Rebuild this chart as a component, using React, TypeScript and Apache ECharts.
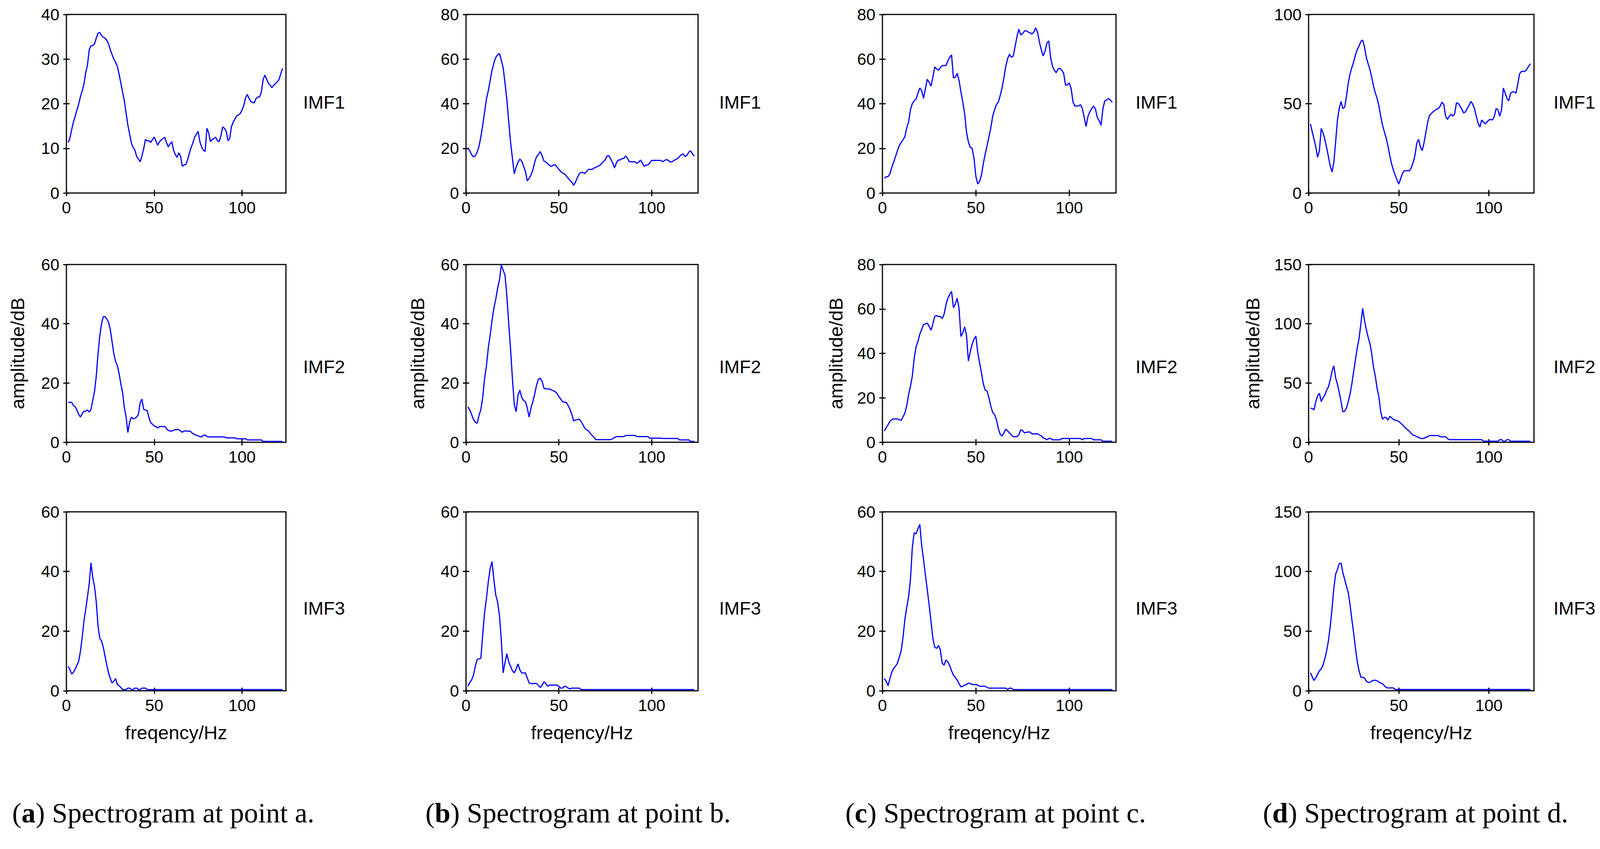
import { useEffect, useRef } from "react";
import * as echarts from "echarts";

// frequency bins (Hz), shared by all twelve spectra
const FREQ = [
  1, 2, 3, 4, 5, 6, 7, 8, 9, 10, 11, 12, 13, 14, 15, 16, 17, 18, 19, 20,
  21, 22, 23, 24, 25, 26, 27, 28, 29, 30, 31, 32, 33, 34, 35, 36, 37, 38, 39, 40,
  41, 42, 43, 44, 45, 46, 47, 48, 49, 50, 51, 52, 53, 54, 55, 56, 57, 58, 59, 60,
  61, 62, 63, 64, 65, 66, 67, 68, 69, 70, 71, 72, 73, 74, 75, 76, 77, 78, 79, 80,
  81, 82, 83, 84, 85, 86, 87, 88, 89, 90, 91, 92, 93, 94, 95, 96, 97, 98, 99, 100,
  101, 102, 103, 104, 105, 106, 107, 108, 109, 110, 111, 112, 113, 114, 115, 116, 117, 118, 119, 120,
  121, 122, 123,
];

// point a
const A_IMF1 = [
  11.3, 12.3, 14.2, 15.9, 17.2, 18.6, 19.9, 21.6, 22.9, 24.4,
  27, 28.7, 32.1, 33, 33, 33.4, 34.7, 35.8, 36, 35.3,
  34.9, 34.7, 34.2, 33.4, 32.1, 31, 30, 29.3, 28.4, 26.6,
  24.6, 22.6, 20.6, 17.9, 15.2, 13.2, 11.2, 10.2, 9.6, 8.2,
  7.6, 7, 8.3, 9.9, 12, 11.7, 11.7, 11.3, 12, 12.5,
  11.6, 10.7, 11.5, 11.9, 12.2, 12.5, 11.3, 10.3, 11, 11.5,
  9.6, 8.6, 8, 9, 8.2, 6, 6.3, 6.4, 7.4, 8.9,
  10.2, 11.2, 12.5, 13.2, 13.8, 11.5, 10.3, 9.6, 9.3, 14.5,
  13.5, 11.5, 12, 12.2, 12.5, 11.7, 11.5, 12.9, 14.8, 14.5,
  13.8, 11.7, 12.3, 14.9, 15.9, 16.6, 17.3, 17.5, 17.8, 18.6,
  19.6, 21.3, 22.1, 21.2, 20.5, 20.3, 20.2, 21.2, 21.5, 21.5,
  22.6, 25.4, 26.4, 25.5, 24.6, 24.2, 23.6, 24.1, 24.5, 24.9,
  25.4, 26.6, 27.9,
];
const A_IMF2 = [
  13.5, 13.5, 13.5, 12.4, 12, 10.9, 9.4, 8.5, 9.6, 10.5,
  10.5, 10.9, 10.2, 11.1, 14.1, 17.1, 22.3, 29.9, 35.9, 40,
  42.4, 42.4, 41.6, 40.5, 38, 34, 29.9, 27.3, 25.8, 23.2,
  19.7, 16.7, 11.7, 8.5, 3.3, 6.8, 8.5, 7.9, 8.1, 8.5,
  9.4, 13.3, 14.6, 11.1, 10.9, 10.7, 8.3, 6.6, 6.1, 5.5,
  5.3, 4.8, 5.3, 5.3, 5.3, 5.3, 4.6, 4, 3.8, 3.8,
  4, 4.3, 4.3, 4.3, 3.8, 3.4, 3.8, 3.8, 3.8, 3.8,
  3.5, 2.9, 2.7, 2.3, 2.2, 1.9, 1.8, 2.4, 2.4, 2,
  1.8, 1.8, 1.8, 1.8, 1.8, 1.8, 1.8, 1.8, 1.8, 1.8,
  1.5, 1.5, 1.5, 1.5, 1.5, 1.5, 1.2, 1.2, 1.2, 1.2,
  1.2, 1.2, 0.8, 0.8, 0.8, 0.8, 0.8, 0.8, 0.8, 0.8,
  0.8, 0.3, 0.3, 0.3, 0.3, 0.3, 0.3, 0.3, 0.3, 0.3,
  0.3, 0.3, 0.3,
];
const A_IMF3 = [
  8.2, 7.1, 5.6, 6.2, 7.3, 8.6, 9.9, 13.3, 18, 23.4,
  27.3, 31.5, 36, 42.9, 38, 35, 29.8, 21.7, 17.6, 16.7,
  14.6, 11.6, 8.6, 6, 4.1, 2.6, 3.2, 4.1, 2.1, 1.7,
  1.1, 0.4, 0.4, 0.4, 0.9, 0.9, 0.4, 0.4, 0.9, 0.9,
  0.4, 0.4, 0.9, 0.9, 0.9, 0.4, 0.4, 0.4, 0.4, 0.4,
  0.4, 0.4, 0.4, 0.4, 0.4, 0.4, 0.4, 0.4, 0.4, 0.4,
  0.4, 0.4, 0.4, 0.4, 0.4, 0.4, 0.4, 0.4, 0.4, 0.4,
  0.4, 0.4, 0.4, 0.4, 0.4, 0.4, 0.4, 0.4, 0.4, 0.4,
  0.4, 0.4, 0.4, 0.4, 0.4, 0.4, 0.4, 0.4, 0.4, 0.4,
  0.4, 0.4, 0.4, 0.4, 0.4, 0.4, 0.4, 0.4, 0.4, 0.4,
  0.4, 0.4, 0.4, 0.4, 0.4, 0.4, 0.4, 0.4, 0.4, 0.4,
  0.4, 0.4, 0.4, 0.4, 0.4, 0.4, 0.4, 0.4, 0.4, 0.4,
  0.4, 0.4, 0.4,
];

// point b
const B_IMF1 = [
  20.3, 18.9, 17.2, 16.2, 16.6, 18.3, 20.9, 25.2, 30.4, 36.1,
  42.1, 45.8, 50.4, 55, 58.2, 60.7, 61.9, 62.5, 59.6, 56.2,
  49.3, 41.8, 32.1, 22.9, 15.5, 8.6, 11.5, 13.8, 15.2, 14.3,
  12, 9.7, 5.4, 6.6, 8, 10.3, 13.8, 16.3, 17.2, 18.6,
  16.6, 14.3, 13.9, 13.2, 12.3, 12, 12.5, 12.7, 11.7, 10.6,
  9.7, 8.9, 8.6, 7.7, 6.6, 5.7, 4.9, 3.4, 4.9, 6.9,
  8.6, 9.3, 9.2, 8.7, 9.7, 10.6, 10.6, 10.6, 11.2, 11.5,
  12, 12.3, 13.2, 14, 14.9, 16.6, 16.7, 15.2, 13.5, 11.2,
  13.5, 14.8, 14.8, 15.4, 15.5, 16.6, 15.5, 14, 14, 14,
  14, 13.3, 13.8, 14.8, 13.5, 11.9, 12.5, 12.6, 13.5, 14.6,
  14.6, 14.6, 14.6, 14.6, 14.6, 14, 14.6, 15, 14.6, 13.9,
  14, 14.6, 15, 15.5, 16.3, 17.2, 17.5, 16.3, 16.9, 18.3,
  18.9, 17.5, 16.6,
];
const B_IMF2 = [
  12, 10.9, 9.4, 7.7, 6.8, 6.4, 9, 11.1, 15.2, 21.5,
  25.8, 31.8, 36.1, 41.1, 45.2, 48.2, 51.9, 54.7, 59.8, 58.1,
  56.4, 49.5, 40, 31.4, 21.5, 12.8, 10.3, 15.9, 17.6, 15.2,
  14.1, 13.7, 11.6, 8.5, 11.6, 13.7, 16.3, 19.3, 21.3, 21.6,
  20.6, 18.2, 18, 18, 18, 17.7, 17.4, 17.1, 16.5, 15.4,
  14.6, 13.7, 13.5, 13.5, 12.4, 11.1, 9.4, 7.2, 7.5, 7.7,
  7.8, 7, 5.9, 4.7, 4.2, 3.8, 2.9, 2.3, 1.6, 0.9,
  0.9, 0.9, 0.9, 0.9, 0.9, 0.9, 0.9, 0.9, 1.2, 1.6,
  1.9, 1.9, 1.9, 1.9, 1.9, 2.3, 2.3, 2.3, 2.3, 2.3,
  2.3, 1.9, 1.9, 1.9, 1.9, 1.9, 1.9, 1.9, 1.4, 1.4,
  1.4, 1.4, 1.4, 1.4, 1.4, 1.3, 1.3, 1.3, 1.3, 1.3,
  1.3, 1.3, 1.3, 1.3, 0.8, 0.8, 0.8, 0.8, 0.8, 0.8,
  0.3, 0.3, 0.3,
];
const B_IMF3 = [
  1.5, 2.8, 3.6, 5.2, 8.2, 10.5, 10.7, 10.9, 18.9, 26.2,
  31, 36.5, 41, 43.3, 37.3, 32.2, 29.8, 25.3, 17.2, 6,
  9.4, 12.4, 9.7, 8.2, 6.7, 6, 7.3, 9, 7, 6,
  6, 6, 4.3, 2.6, 2.4, 2.4, 2.5, 2.4, 1.8, 1.1,
  1.9, 3, 2.4, 1.5, 1.9, 1.9, 1.9, 1.9, 1.9, 1.5,
  0.9, 0.9, 1.5, 1.4, 0.9, 0.6, 0.9, 0.9, 0.9, 0.9,
  0.9, 0.4, 0.4, 0.4, 0.4, 0.4, 0.4, 0.4, 0.4, 0.4,
  0.4, 0.4, 0.4, 0.4, 0.4, 0.4, 0.4, 0.4, 0.4, 0.4,
  0.4, 0.4, 0.4, 0.4, 0.4, 0.4, 0.4, 0.4, 0.4, 0.4,
  0.4, 0.4, 0.4, 0.4, 0.4, 0.4, 0.4, 0.4, 0.4, 0.4,
  0.4, 0.4, 0.4, 0.4, 0.4, 0.4, 0.4, 0.4, 0.4, 0.4,
  0.4, 0.4, 0.4, 0.4, 0.4, 0.4, 0.4, 0.4, 0.4, 0.4,
  0.4, 0.4, 0.4,
];

// point c
const C_IMF1 = [
  6.6, 7.3, 7.3, 8.6, 11.5, 13.8, 16.3, 18.9, 21.2, 22.6,
  23.8, 25.2, 29.2, 31.8, 37.3, 40.1, 41.3, 42.1, 44.7, 47,
  45.9, 42.4, 46.7, 51, 49.6, 47.9, 51.9, 56.5, 55.6, 55,
  56.2, 57.1, 57.1, 57.1, 59.1, 60.8, 61.9, 51.6, 51.9, 53.6,
  50.5, 45.3, 40.7, 35.6, 27.2, 22.9, 20.4, 20.1, 15.5, 7.5,
  4, 5.2, 8, 13.2, 17.5, 21.2, 25.2, 29.2, 34.4, 37.3,
  39.6, 40.7, 43.6, 47, 51.6, 56.8, 60.2, 62.2, 60.8, 61.4,
  65.7, 70, 73.4, 70.8, 71.4, 72.6, 72.7, 72.1, 71.8, 71.2,
  72.1, 74, 72, 67.7, 64.2, 61.4, 63.4, 67.1, 68.2, 60.8,
  56.8, 55, 53.9, 55.6, 55.9, 55, 53.6, 48.2, 48.5, 49.3,
  46.7, 40.7, 39, 39, 39, 39.6, 37.8, 33.8, 29.8, 34.4,
  36.4, 37.8, 39, 37.6, 33.8, 32.4, 30.4, 37.8, 41.3, 41.7,
  42.4, 41.6, 40.6,
];
const C_IMF2 = [
  5.1, 6.5, 7.9, 9.4, 10.2, 10.5, 10.5, 10.5, 10.2, 9.8,
  11.4, 13.1, 16.5, 21.4, 25.2, 29.8, 37.8, 43, 45.3, 48.7,
  50.7, 53, 53.3, 53.6, 52.2, 50.4, 53.3, 56.7, 57, 56.6,
  56.6, 55.7, 57.6, 61.9, 64.8, 66.5, 67.9, 60.5, 62.2, 64.8,
  60.2, 47.6, 49.3, 51.9, 48.1, 36.6, 40.7, 44.1, 46.4, 47.8,
  40.4, 35.8, 31.2, 26.3, 23.4, 23.1, 20, 16.3, 13.4, 12.5,
  10.2, 6.3, 3.6, 2.8, 4.2, 5.9, 5.1, 4.2, 3.3, 2.5,
  2.5, 2.5, 3.3, 5.6, 5.3, 4.2, 4.5, 4.6, 4.6, 3.8,
  3.8, 3.8, 3.8, 3.3, 2.9, 1.9, 1.7, 1.1, 1.7, 1.7,
  1.1, 1.1, 1.1, 1.1, 1.1, 1.7, 1.7, 1.7, 1.7, 1.7,
  1.7, 1.7, 1.7, 1.7, 1.7, 1.7, 1.1, 1.7, 1.7, 1.7,
  1.7, 1.7, 1.1, 1.1, 1.1, 1.1, 1.1, 0.5, 0.5, 0.5,
  0.5, 0.5, 0.5,
];
const C_IMF3 = [
  4.1, 3.2, 1.7, 4.1, 6.2, 7.5, 8.2, 9.2, 11.2, 13.3,
  17.8, 23.8, 27.9, 31.5, 37.3, 48.1, 53, 52.6, 54.3, 55.8,
  48.7, 44, 38.8, 33.9, 28.8, 23.2, 17.6, 14.6, 14.2, 15.2,
  13.7, 9.2, 8.6, 10.3, 9.7, 8.4, 6.7, 5.2, 4.5, 3.6,
  2.4, 1.3, 1.5, 1.9, 2.1, 2.6, 2.4, 2.1, 2.1, 2.1,
  1.9, 1.5, 1.5, 1.5, 1.5, 1.1, 0.9, 0.9, 0.9, 0.9,
  0.9, 0.9, 0.9, 0.9, 0.9, 0.9, 0.4, 0.9, 0.9, 0.4,
  0.4, 0.4, 0.4, 0.4, 0.4, 0.4, 0.4, 0.4, 0.4, 0.4,
  0.4, 0.4, 0.4, 0.4, 0.4, 0.4, 0.4, 0.4, 0.4, 0.4,
  0.4, 0.4, 0.4, 0.4, 0.4, 0.4, 0.4, 0.4, 0.4, 0.4,
  0.4, 0.4, 0.4, 0.4, 0.4, 0.4, 0.4, 0.4, 0.4, 0.4,
  0.4, 0.4, 0.4, 0.4, 0.4, 0.4, 0.4, 0.4, 0.4, 0.4,
  0.4, 0.4, 0.4,
];

// point d
const D_IMF1 = [
  38.7, 34.4, 30.1, 25.8, 20, 23.7, 36.2, 33.7, 30.1, 25.4,
  20.4, 15.1, 11.8, 17.2, 28.7, 40.9, 47.3, 51.3, 47.3, 48,
  54.1, 61.6, 66.7, 70.3, 73.5, 77.4, 80.3, 82.4, 84.9, 85.7,
  81.7, 76, 72.4, 69.2, 64.9, 59.9, 55.9, 53, 48.7, 43,
  38, 34.4, 30.8, 26.5, 21.1, 16.5, 12.9, 10, 7.5, 5,
  7.9, 10.8, 12.5, 12.5, 12.5, 12.5, 14.3, 17.2, 21.1, 28,
  30.1, 25.8, 23.7, 28, 33.7, 39.4, 43.4, 44.4, 45.5, 46.2,
  47, 47.3, 48.7, 50.9, 49.5, 43, 41.2, 43, 44.1, 43,
  44.4, 50.5, 50.2, 48.7, 47, 44.8, 45.5, 47.3, 49.1, 51.3,
  49.8, 47.3, 43, 39.1, 36.9, 40.9, 39.8, 38.7, 39.8, 40.9,
  41.2, 40.9, 43, 47.3, 46.6, 43, 46.6, 58.8, 55.9, 53,
  51.6, 55.9, 56.6, 56.6, 55.9, 60.9, 66.7, 68.1, 68.1, 68.1,
  69.2, 71, 72.4,
];
const D_IMF2 = [
  28.6, 28.6, 27.3, 34.3, 39.2, 41.3, 34.3, 37.5, 39.7, 44,
  46.7, 52.6, 60, 64.5, 54.3, 48.9, 41.9, 34.3, 25.7, 26.2,
  28.9, 34.3, 40.8, 49.4, 59.7, 69.9, 79.6, 87.7, 100, 113,
  102.8, 95.3, 88.8, 83.4, 74.8, 63.4, 55.9, 45.6, 38.1, 25.7,
  19.4, 21.1, 20.8, 18.7, 21.9, 20.8, 19.2, 18.7, 18.3, 17.6,
  16.2, 14.9, 13.3, 11.7, 10.4, 9, 7.3, 6, 5.7, 4.6,
  4.3, 3.2, 3.2, 3.2, 4.3, 4.6, 5.7, 5.7, 5.7, 5.7,
  5.7, 5.7, 4.6, 4.6, 4.6, 4.6, 3.2, 2.2, 2.2, 2.2,
  2.2, 2.2, 2.2, 2.2, 2.2, 2.2, 2.2, 2.2, 2.2, 2.2,
  2.2, 2.2, 2.2, 2.2, 2.2, 2.2, 0.9, 0.9, 0.9, 0.9,
  0.9, 0.9, 0.9, 0.9, 0.9, 2.2, 2.2, 0.9, 0.9, 2.2,
  2.2, 0.9, 0.9, 0.9, 0.9, 0.9, 0.9, 0.9, 0.9, 0.9,
  0.9, 0.9, 0.9,
];
const D_IMF3 = [
  15.1, 11.8, 8.6, 10.8, 14, 16.7, 18.3, 21.5, 26.9, 33.3,
  41.9, 53.8, 68.8, 86, 97.8, 101.6, 106.5, 107, 98.9, 93.5,
  87.6, 82.3, 72, 59.7, 48.4, 35.5, 24.2, 16.7, 11.3, 11.3,
  10.8, 8.1, 7, 7, 8.1, 8.8, 8.8, 8.4, 7.3, 6.5,
  5.9, 4.3, 2.7, 2.4, 2.4, 2.4, 2.4, 1.1, 1.1, 1.1,
  1.1, 1.1, 1.1, 1.1, 1.1, 1.1, 1.1, 1.1, 1.1, 1.1,
  1.1, 1.1, 1.1, 1.1, 1.1, 1.1, 1.1, 1.1, 1.1, 1.1,
  1.1, 1.1, 1.1, 1.1, 1.1, 1.1, 1.1, 1.1, 1.1, 1.1,
  1.1, 1.1, 1.1, 1.1, 1.1, 1.1, 1.1, 1.1, 1.1, 1.1,
  1.1, 1.1, 1.1, 1.1, 1.1, 1.1, 1.1, 1.1, 1.1, 1.1,
  1.1, 1.1, 1.1, 1.1, 1.1, 1.1, 1.1, 1.1, 1.1, 1.1,
  1.1, 1.1, 1.1, 1.1, 1.1, 1.1, 1.1, 1.1, 1.1, 1.1,
  1.1, 1.1, 1.1,
];

// columns = points a..d, rows = IMF1..IMF3
const SPECTRA = [
  [A_IMF1, A_IMF2, A_IMF3],
  [B_IMF1, B_IMF2, B_IMF3],
  [C_IMF1, C_IMF2, C_IMF3],
  [D_IMF1, D_IMF2, D_IMF3],
];
const Y_MAX = [
  [40, 60, 60],
  [80, 60, 60],
  [80, 80, 60],
  [100, 150, 150],
];
const Y_STEP = [
  [10, 20, 20],
  [20, 20, 20],
  [20, 20, 20],
  [50, 50, 50],
];
const X_MAX = 125;
const X_TICKS = [0, 50, 100];
const IMF_LABELS = ["IMF1", "IMF2", "IMF3"];
const POINTS = ["a", "b", "c", "d"];
const X_NAME = "freqency/Hz";
const Y_NAME = "amplitude/dB";

// layout (px)
const W = 4170;
const H = 2173;
const COL_LEFT = [170, 1193, 2259, 3350];
const COL_WIDTH = [562, 594, 598, 577];
const ROW_TOP = [37, 677, 1310];
const ROW_HEIGHT = [457, 455, 458];
const IMF_X = [776, 1841, 2907, 3977];
const IMF_Y = [261, 938, 1556];
const YNAME_GAP = [101, 100, 95, 119];
const CAPTION_X = [31, 1089, 2164, 3233];
const CAPTION_Y = 2081;

const SANS = "'Liberation Sans', Arial, Helvetica, sans-serif";
const SERIF = "'Liberation Serif', 'Times New Roman', serif";
const TICK_FONT = 42;
const LABEL_FONT = 49;
const IMF_FONT = 47;
const CAPTION_FONT = 72;

export default function App() {
  const ref = useRef<HTMLDivElement>(null);

  useEffect(() => {
    document.body.style.margin = "0";
    if (!ref.current) return;
    const chart = echarts.init(ref.current, null, { renderer: "svg" });

    const grid: any[] = [];
    const xAxis: any[] = [];
    const yAxis: any[] = [];
    const series: any[] = [];
    const graphic: any[] = [];

    SPECTRA.forEach((col, c) => {
      col.forEach((vals, r) => {
        const gi = grid.length;
        grid.push({
          left: COL_LEFT[c],
          top: ROW_TOP[r],
          width: COL_WIDTH[c],
          height: ROW_HEIGHT[r],
          show: true,
          borderColor: "#000",
          borderWidth: 3,
          backgroundColor: "#fff",
        });
        const tick = { show: true, inside: true, length: 8, lineStyle: { color: "#000", width: 3 } };
        // bottom (labelled) and top (ticks only) frequency axes
        xAxis.push({
          type: "value",
          gridIndex: gi,
          min: 0,
          max: X_MAX,
          interval: 50,
          axisLine: { show: false },
          axisTick: { ...tick, customValues: X_TICKS },
          splitLine: { show: false },
          axisLabel: {
            customValues: X_TICKS,
            color: "#000",
            fontSize: TICK_FONT,
            fontFamily: SANS,
            margin: 16,
          },
          name: r === 2 ? X_NAME : "",
          nameLocation: "middle",
          nameGap: 82,
          nameTextStyle: { color: "#000", fontSize: LABEL_FONT, fontFamily: SANS },
        });
        xAxis.push({
          type: "value",
          gridIndex: gi,
          position: "top",
          min: 0,
          max: X_MAX,
          interval: 50,
          axisLine: { show: false },
          axisTick: { ...tick, customValues: X_TICKS },
          splitLine: { show: false },
          axisLabel: { show: false },
        });
        // left (labelled) and right (ticks only) amplitude axes
        yAxis.push({
          type: "value",
          gridIndex: gi,
          min: 0,
          max: Y_MAX[c][r],
          interval: Y_STEP[c][r],
          axisLine: { show: false },
          axisTick: tick,
          splitLine: { show: false },
          axisLabel: {
            color: "#000",
            fontSize: TICK_FONT,
            fontFamily: SANS,
            margin: 18,
          },
          name: r === 1 ? Y_NAME : "",
          nameLocation: "middle",
          nameRotate: 90,
          nameGap: YNAME_GAP[c],
          nameTextStyle: { color: "#000", fontSize: LABEL_FONT, fontFamily: SANS },
        });
        yAxis.push({
          type: "value",
          gridIndex: gi,
          position: "right",
          min: 0,
          max: Y_MAX[c][r],
          interval: Y_STEP[c][r],
          axisLine: { show: false },
          axisTick: tick,
          splitLine: { show: false },
          axisLabel: { show: false },
        });
        series.push({
          type: "line",
          xAxisIndex: gi * 2,
          yAxisIndex: gi * 2,
          data: FREQ.map((f, i) => [f, vals[i]]),
          symbol: "none",
          lineStyle: { color: "#0000ff", width: 3 },
          itemStyle: { color: "#0000ff" },
          clip: true,
          z: 3,
        });
      });

      IMF_LABELS.forEach((label, r) => {
        graphic.push({
          type: "text",
          x: IMF_X[c],
          y: IMF_Y[r],
          style: {
            text: label,
            fontSize: IMF_FONT,
            fontFamily: SANS,
            fill: "#000",
            verticalAlign: "middle",
          },
        });
      });

      const p = POINTS[c];
      graphic.push({
        type: "text",
        x: CAPTION_X[c],
        y: CAPTION_Y,
        style: {
          text: `({b|${p}}) Spectrogram at point ${p}.`,
          fontSize: CAPTION_FONT,
          fontFamily: SERIF,
          fill: "#000",
          verticalAlign: "middle",
          rich: {
            b: { fontSize: CAPTION_FONT, fontFamily: SERIF, fontWeight: "bold", fill: "#000" },
          },
        },
      });
    });

    chart.setOption({
      animation: false,
      backgroundColor: "#fff",
      grid,
      xAxis,
      yAxis,
      series,
      graphic,
    });

    const onResize = () => chart.resize();
    window.addEventListener("resize", onResize);
    return () => {
      window.removeEventListener("resize", onResize);
      chart.dispose();
    };
  }, []);

  return <div ref={ref} style={{ width: W, height: H }} />;
}
